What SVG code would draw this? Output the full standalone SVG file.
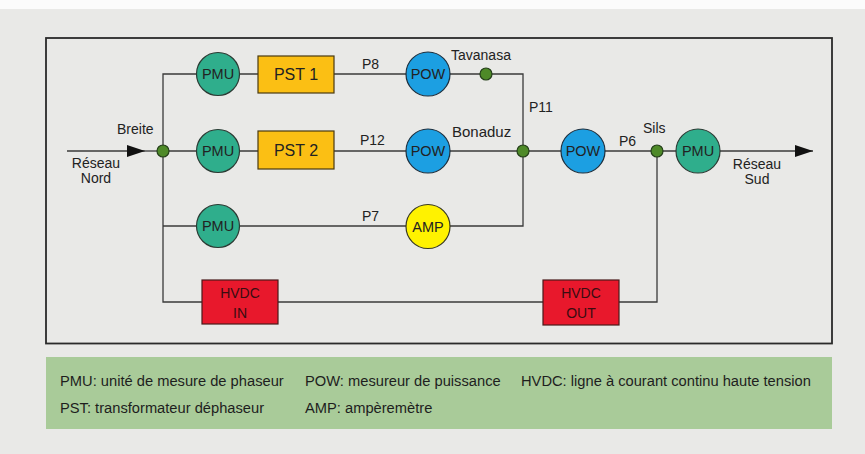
<svg xmlns="http://www.w3.org/2000/svg" width="865" height="454" viewBox="0 0 865 454">
  <defs>
    <marker id="arrow" markerUnits="userSpaceOnUse" markerWidth="19" markerHeight="13" refX="18" refY="6" orient="auto">
      <path d="M0,0 L18,6 L0,12 Z" fill="#111"/>
    </marker>
  </defs>
  <style>
    text { font-family: "Liberation Sans", Arial, sans-serif; fill: #222; }
    .wire { fill: none; stroke: #3a3a3a; stroke-width: 1.3; }
    .frame { fill: none; stroke: #2a2a2a; stroke-width: 1.8; }
    .pmu { fill: #2fae8c; stroke: #2b3b34; stroke-width: 1.2; }
    .pow { fill: #1c9fe2; stroke: #1d2f3e; stroke-width: 1.2; }
    .amp { fill: #fff200; stroke: #3a3a20; stroke-width: 1.2; }
    .pst { fill: #fbbf14; stroke: #4a3a10; stroke-width: 1.2; }
    .hvdc { fill: #e8182c; stroke: #4a1a1a; stroke-width: 1.2; }
    .bus { fill: #4e8a28; stroke: #25401a; stroke-width: 1.2; }
    .lbl { font-size: 14px; }
    .in { font-size: 14.5px; text-anchor: middle; }
    .big { font-size: 16px; text-anchor: middle; }
    .dc { font-size: 14px; text-anchor: middle; fill: #3a0c10; }
    .leg { font-size: 14.7px; fill: #1e1e1e; }
  </style>

  <!-- paper -->
  <rect x="0" y="0" width="865" height="454" fill="#e9e9e7"/>
  <rect x="0" y="0" width="865" height="9" fill="#fbfbfb"/>

  <!-- outer frame -->
  <rect class="frame" x="46" y="38" width="786" height="305.5"/>

  <!-- connectors -->
  <g id="connectors">
    <line class="wire" x1="67" y1="151" x2="145" y2="151" marker-end="url(#arrow)" stroke="#111"/>
    <line class="wire" x1="145" y1="151" x2="163" y2="151"/>
    <!-- left bus -->
    <polyline class="wire" points="218,74 163,74 163,302 202,302"/>
    <!-- row 1 -->
    <line class="wire" x1="218" y1="74" x2="258" y2="74"/>
    <line class="wire" x1="334" y1="74" x2="428" y2="74"/>
    <polyline class="wire" points="428,74 523,74 523,226 428,226"/>
    <!-- row 2 -->
    <line class="wire" x1="163" y1="151" x2="258" y2="151"/>
    <line class="wire" x1="334" y1="151" x2="698" y2="151"/>
    <line class="wire" x1="720" y1="151" x2="813" y2="151" marker-end="url(#arrow)" stroke="#111"/>
    <!-- row 3 -->
    <line class="wire" x1="163" y1="226" x2="428" y2="226"/>
    <!-- row 4 -->
    <line class="wire" x1="278" y1="302" x2="543" y2="302"/>
    <polyline class="wire" points="619,302 657,302 657,151"/>
  </g>

  <!-- line labels -->
  <g id="labels">
    <text class="lbl" x="117" y="134">Breite</text>
    <text class="lbl" x="96" y="168" text-anchor="middle">Réseau</text>
    <text class="lbl" x="96" y="183" text-anchor="middle">Nord</text>
    <text class="lbl" x="362" y="69">P8</text>
    <text class="lbl" x="451" y="60">Tavanasa</text>
    <text class="lbl" x="529" y="112">P11</text>
    <text class="lbl" x="360" y="145">P12</text>
    <text class="lbl" x="452" y="137" style="font-size:15px">Bonaduz</text>
    <text class="lbl" x="619" y="146">P6</text>
    <text class="lbl" x="643" y="133">Sils</text>
    <text class="lbl" x="757" y="169" text-anchor="middle">Réseau</text>
    <text class="lbl" x="757" y="184" text-anchor="middle">Sud</text>
    <text class="lbl" x="362" y="221">P7</text>
  </g>

  <!-- bus nodes -->
  <g id="bus-breite"><circle class="bus" cx="163" cy="151" r="6"/></g>
  <g id="bus-tavanasa"><circle class="bus" cx="486" cy="74" r="6"/></g>
  <g id="bus-bonaduz"><circle class="bus" cx="523" cy="151" r="6"/></g>
  <g id="bus-sils"><circle class="bus" cx="657" cy="151" r="6"/></g>

  <!-- measurement nodes -->
  <g id="pmu-1"><circle class="pmu" cx="218" cy="74" r="21.5"/><text class="in" x="218" y="79">PMU</text></g>
  <g id="pmu-2"><circle class="pmu" cx="218" cy="151" r="21.5"/><text class="in" x="218" y="156">PMU</text></g>
  <g id="pmu-3"><circle class="pmu" cx="218" cy="226" r="21.5"/><text class="in" x="218" y="231">PMU</text></g>
  <g id="pmu-4"><circle class="pmu" cx="698" cy="151" r="22"/><text class="in" x="698" y="156">PMU</text></g>

  <g id="pst-1"><rect class="pst" x="258" y="56" width="76" height="37"/><text class="big" x="296" y="80">PST 1</text></g>
  <g id="pst-2"><rect class="pst" x="258" y="131" width="76" height="38"/><text class="big" x="296" y="156">PST 2</text></g>

  <g id="pow-1"><circle class="pow" cx="428" cy="74" r="22"/><text class="in" x="428" y="79">POW</text></g>
  <g id="pow-2"><circle class="pow" cx="428" cy="151" r="22"/><text class="in" x="428" y="156">POW</text></g>
  <g id="pow-3"><circle class="pow" cx="583" cy="151" r="22"/><text class="in" x="583" y="156">POW</text></g>

  <g id="amp"><circle class="amp" cx="428" cy="226.5" r="22"/><text class="in" x="428" y="231.5">AMP</text></g>

  <g id="hvdc-in"><rect class="hvdc" x="202" y="280" width="76" height="44"/><text class="dc" x="240" y="298">HVDC</text><text class="dc" x="240" y="318">IN</text></g>
  <g id="hvdc-out"><rect class="hvdc" x="543" y="280" width="76" height="45"/><text class="dc" x="581" y="298">HVDC</text><text class="dc" x="581" y="318">OUT</text></g>

  <!-- legend -->
  <g id="legend">
    <rect x="46" y="357" width="786" height="72" fill="#a9cb99"/>
    <text class="leg" x="60" y="386">PMU: unité de mesure de phaseur</text>
    <text class="leg" x="305" y="386">POW: mesureur de puissance</text>
    <text class="leg" x="521" y="386">HVDC: ligne à courant continu haute tension</text>
    <text class="leg" x="60" y="413">PST: transformateur déphaseur</text>
    <text class="leg" x="305" y="413">AMP: ampèremètre</text>
  </g>
</svg>
